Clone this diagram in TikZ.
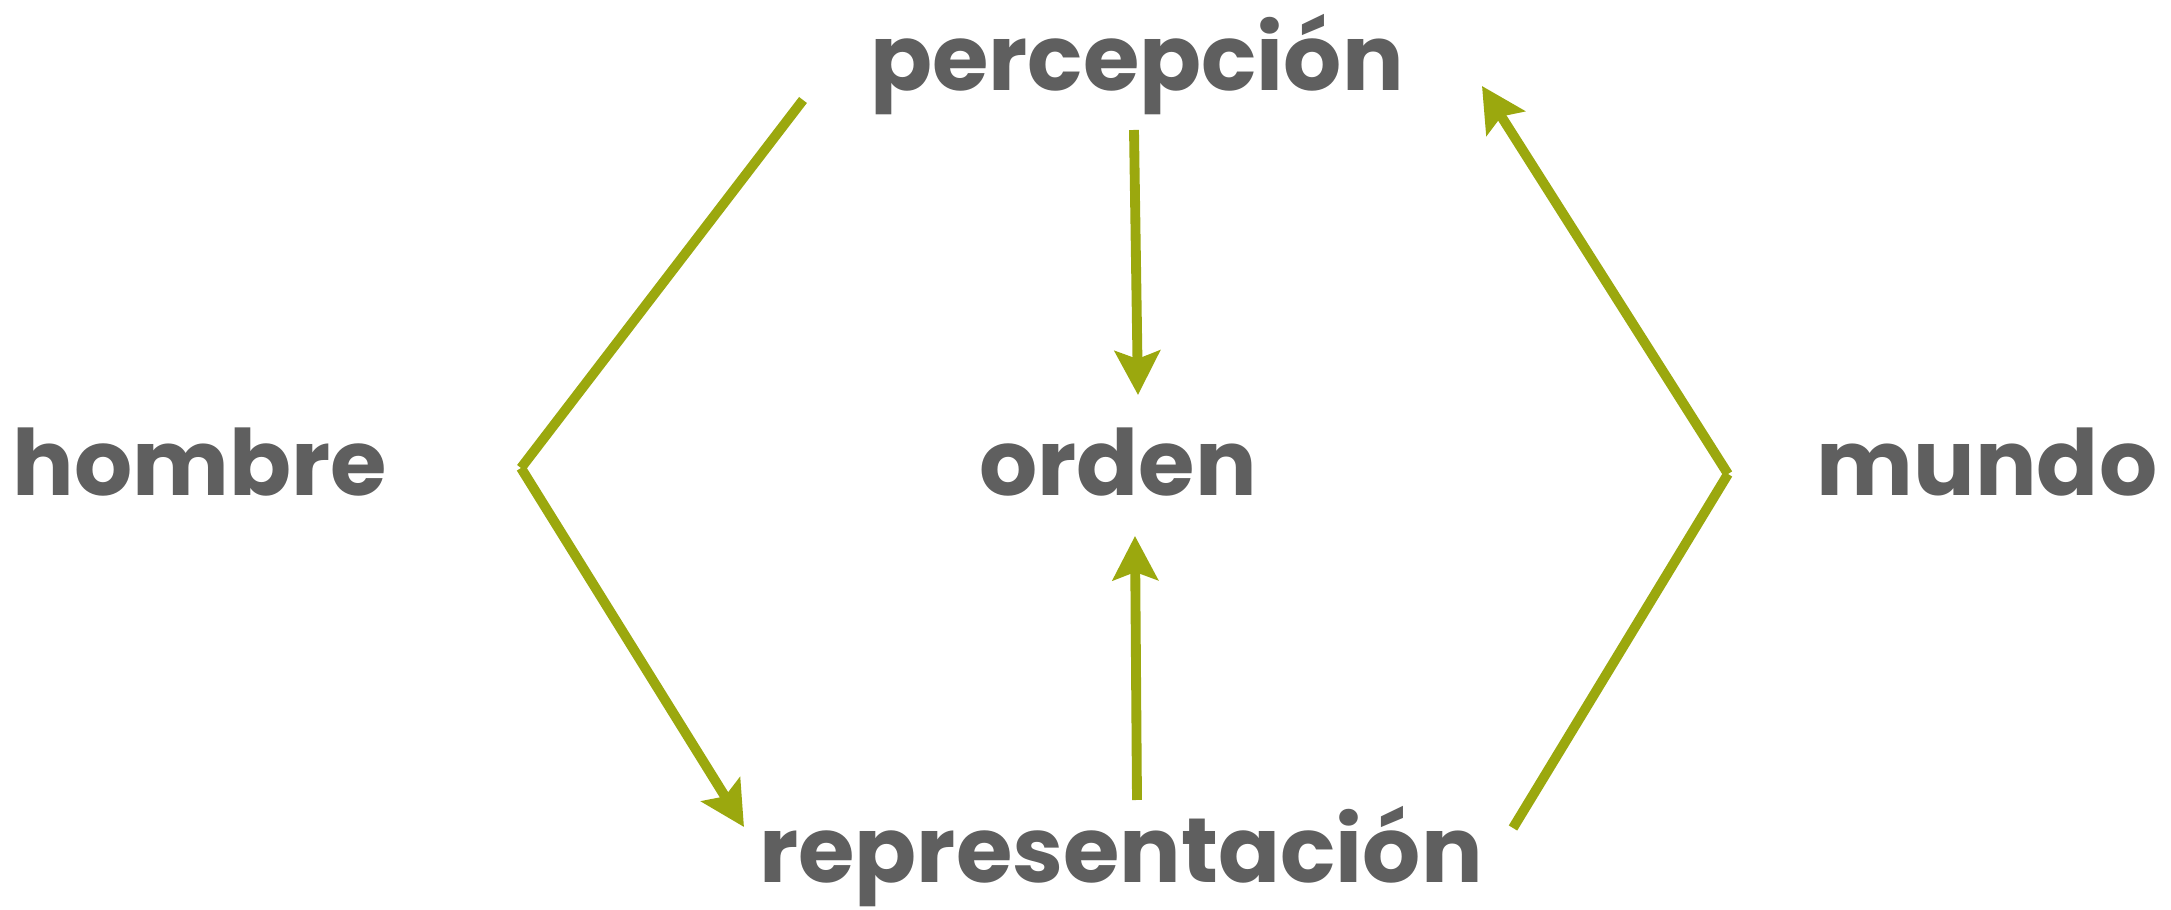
\documentclass[tikz,border=0pt]{standalone}
\usepackage{fontspec}
\setmainfont{Poppins}
\usetikzlibrary{arrows.meta}
\definecolor{txt}{RGB}{95,95,95}
\definecolor{olive}{RGB}{155,168,14}
\begin{document}
\begin{tikzpicture}[x=0.01cm,y=-0.01cm,
  lbl/.style={anchor=base,inner sep=0pt,text=txt,font=\fontsize{26pt}{30pt}\selectfont\bfseries},
  conn/.style={draw=olive,line width=2.8pt},
  tip/.style={-{Stealth[length=0.44cm,width=0.45cm,inset=0.08cm]}}]
\useasboundingbox (0,0) rectangle (2171,910);
\node[lbl] (hombre) at (200,496) {hombre};
\node[lbl] (orden) at (1118,496) {orden};
\node[lbl,anchor=base east] (mundo) at (2158,496) {mundo};
\node[lbl] (perc) at (1137,91) {percepción};
\node[lbl] (rep) at (1121,883) {representación};
\coordinate (lv) at (521,468);
\coordinate (ltop) at (803,100);
\coordinate (lbot) at (744,827);
\coordinate (rv) at (1728,474);
\coordinate (rtop) at (1482,86);
\coordinate (rbot) at (1513,828);
\coordinate (po) at (1134,130);
\coordinate (poend) at (1138,395);
\coordinate (ro) at (1137,800);
\coordinate (roend) at (1135,536);
\draw[conn] (ltop) -- (lv);
\draw[conn,tip] (lv) -- (lbot);
\draw[conn] (rbot) -- (rv);
\draw[conn,tip] (rv) -- (rtop);
\draw[conn,tip] (po) -- (poend);
\draw[conn,tip] (ro) -- (roend);
\end{tikzpicture}
\end{document}
